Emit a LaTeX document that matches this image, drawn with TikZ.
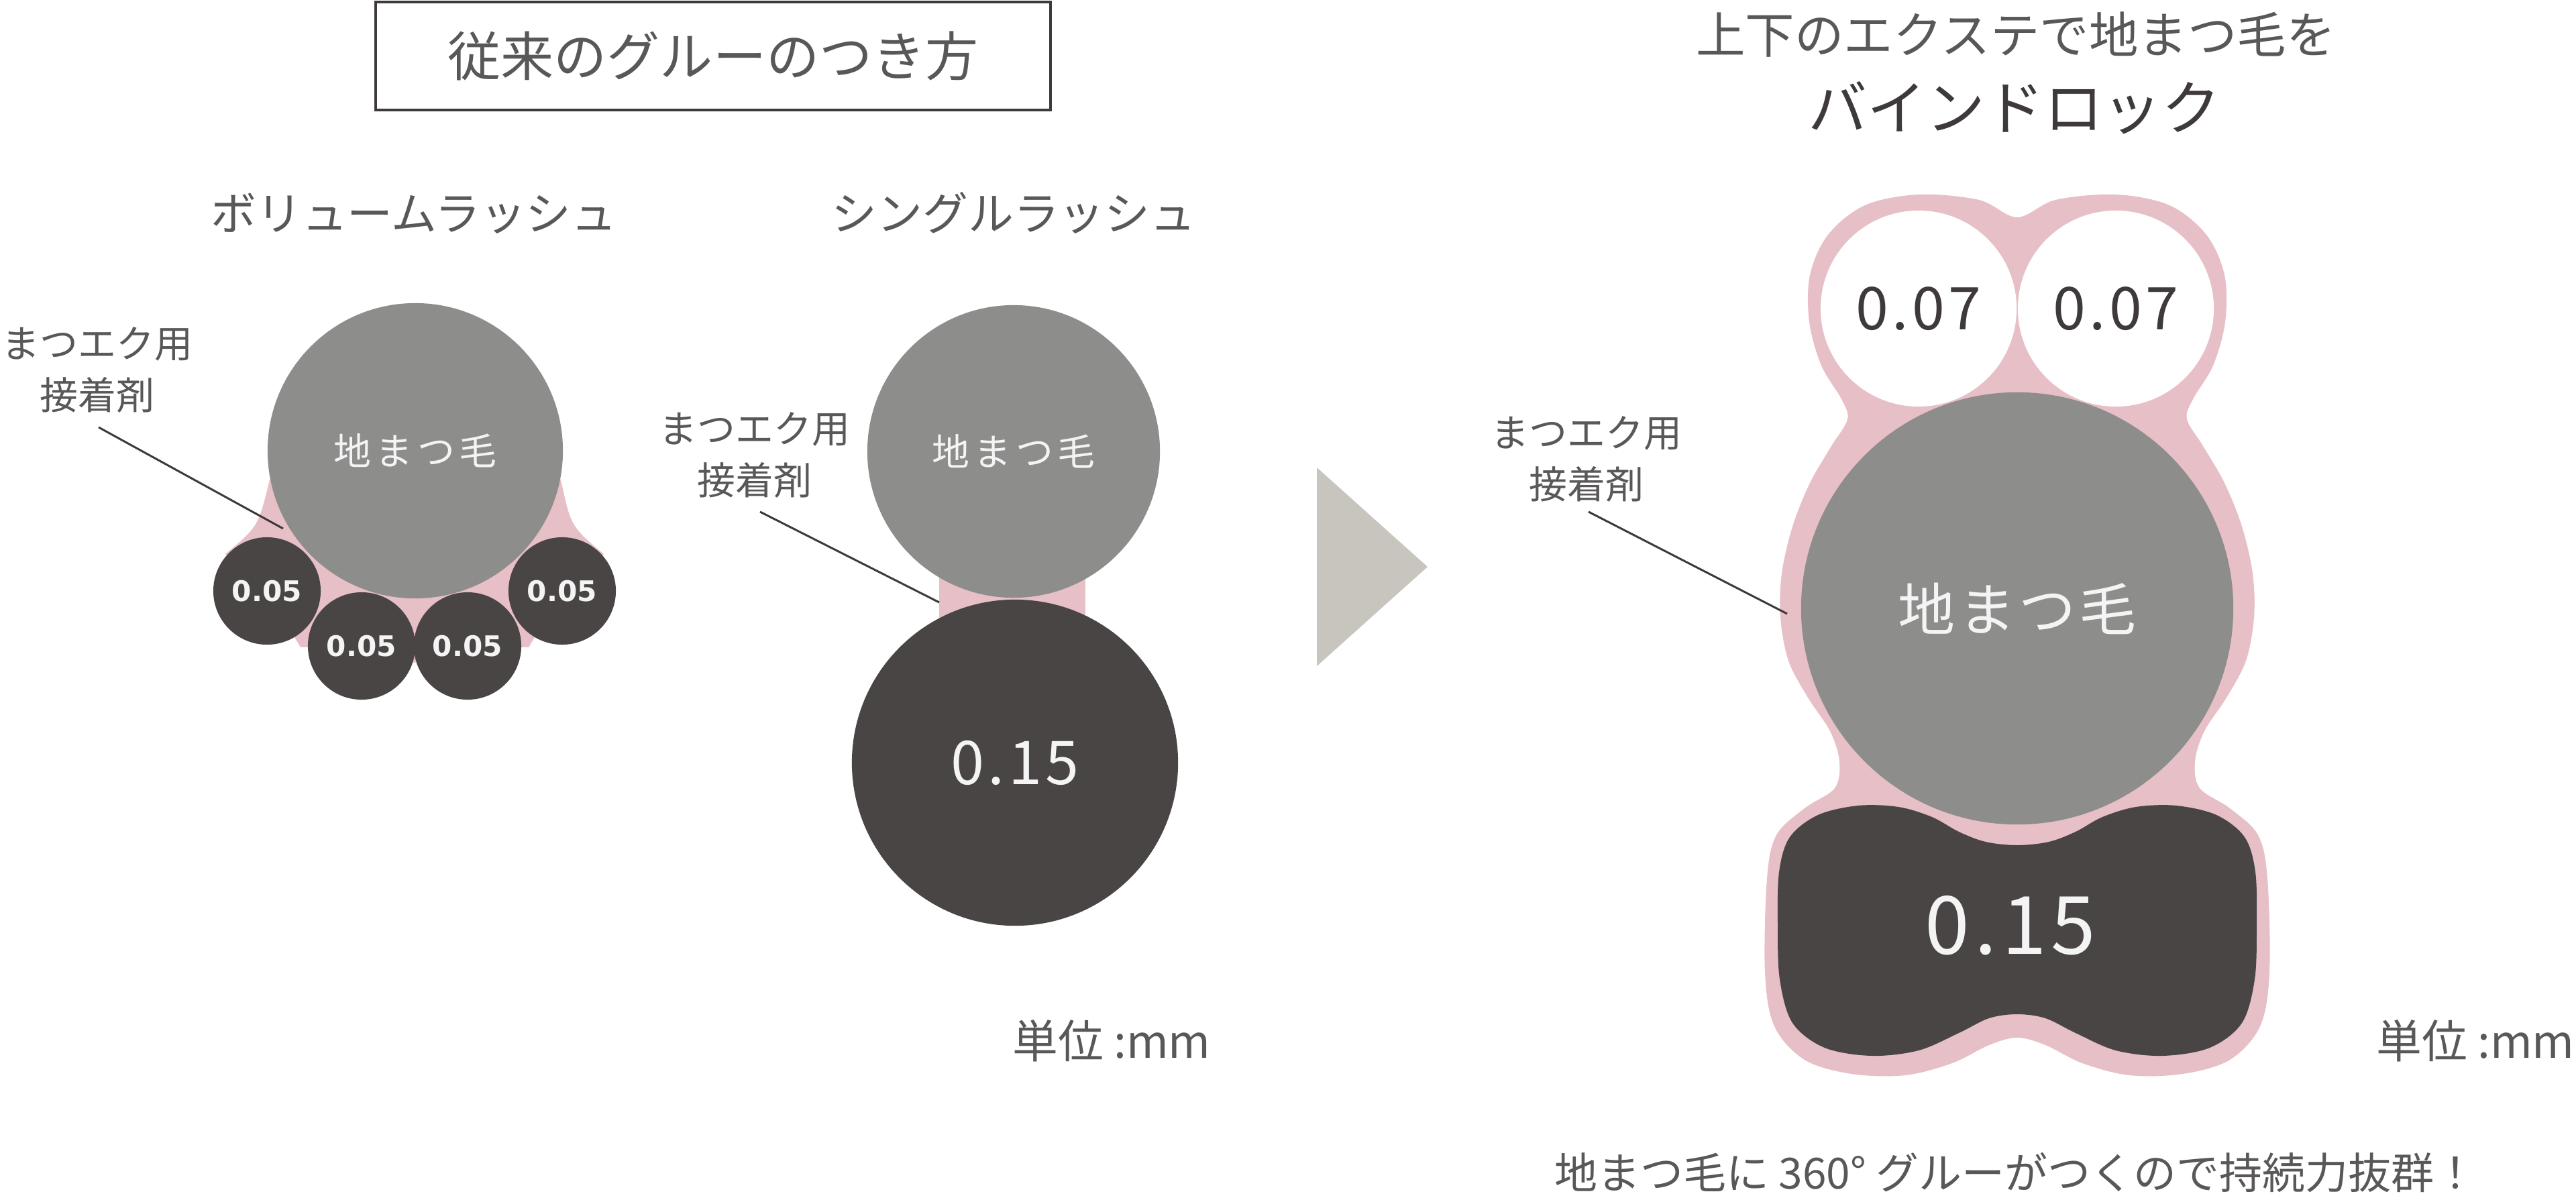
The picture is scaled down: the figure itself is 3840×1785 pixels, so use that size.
\documentclass[tikz,border=0pt]{standalone}
\usepackage{fontspec}
\setmainfont{Noto Sans CJK JP}
\newfontfamily\jpsp[LetterSpace=12]{Noto Sans CJK JP}
\newfontfamily\jpsq[LetterSpace=6]{Noto Sans CJK JP}
\newfontfamily\dvsans{DejaVu Sans}
\newcommand\fsz[1]{\fontsize{#1pt}{#1pt}\selectfont}
\definecolor{tg}{HTML}{595757}
\definecolor{tdk}{HTML}{3E3A39}
\definecolor{gc}{HTML}{8D8D8C}
\definecolor{dk}{HTML}{4A4545}
\definecolor{pk}{HTML}{E7BFC7}
\definecolor{tri}{HTML}{C8C5BE}
\definecolor{lc}{HTML}{3E3A39}
\definecolor{wt}{HTML}{F4F4F4}
\tikzset{
  txt/.style={inner sep=0pt, outer sep=0pt, text=tg},
  tbox/.style={draw=lc, line width=1.1pt, minimum width=10.06cm, minimum height=1.61cm, inner sep=0pt, text=tg, font=\fsz{22.5}},
  hdr/.style={txt, font=\fsz{19.3}},
  lbl/.style={txt, align=center, font=\fontsize{16.2pt}{21.9pt}\selectfont},
  leader/.style={draw=lc, line width=0.85pt},
  graycirc/.style={circle, fill=gc, inner sep=0pt, text=wt},
  darkcirc/.style={circle, fill=dk, inner sep=0pt, text=wt},
  whitecirc/.style={circle, fill=white, inner sep=0pt, text=tdk},
  smalldark/.style={darkcirc, minimum size=1.6cm, font=\dvsans\bfseries\fsz{12}},
  unit/.style={txt, font=\fsz{19.3}}
}
\begin{document}
\begin{tikzpicture}[x=0.01cm,y=-0.01cm]
\useasboundingbox (0,0) rectangle (3840,1785);

% ---------- title box ----------
\node[tbox] (ttl) at (1063,83.5) {従来のグルーのつき方};

% ---------- headers ----------
\node[hdr] (hvol) at (617,318) {ボリュームラッシュ};
\node[hdr] (hsgl) at (1511,318) {シングルラッシュ};

% ---------- volume lash ----------
\fill[pk] (619,672) -- (402,715) .. controls (385,785) .. (336,826) -- (398,881) -- (448,965)
  -- (539,963) -- (618,988) -- (697,963) -- (788,965) -- (838,881) -- (900,826)
  .. controls (851,785) .. (836,715) -- cycle;
\node[graycirc, minimum size=4.4cm, font=\jpsp\fsz{15.9}] (vbig) at (619,672) {地まつ毛};
\node[smalldark] (v1) at (398,881) {0.05};
\node[smalldark] (v2) at (539,963) {0.05};
\node[smalldark] (v3) at (697,963) {0.05};
\node[smalldark] (v4) at (838,881) {0.05};

\node[lbl] (lab1) at (145,551) {まつエク用\\接着剤};
\coordinate (l1s) at (147,637);
\coordinate (l1e) at (422,788);
\draw[leader] (l1s) -- (l1e);

% ---------- single lash ----------
\fill[pk] (1400,850) rectangle (1618,925);
\node[graycirc, minimum size=4.36cm, font=\jpsp\fsz{15.9}] (sbig) at (1511,673) {地まつ毛};
\node[darkcirc, minimum size=4.86cm, font=\jpsq\fsz{25.6}] (sdark) at (1513,1137) {0.15};

\node[lbl] (lab2) at (1125,678) {まつエク用\\接着剤};
\coordinate (l2s) at (1133,763);
\coordinate (l2e) at (1400,898);
\draw[leader] (l2s) -- (l2e);

\node[unit] (unit1) at (1657,1552) {単位 :mm};

% ---------- arrow ----------
\fill[tri] (1963,697) -- (1963,993) -- (2128,845) -- cycle;

% ---------- right title ----------
\node[txt, font=\fsz{20.9}] (rt1) at (3005,52) {上下のエクステで地まつ毛を};
\node[txt, text=tdk, font=\fsz{25}] (rt2) at (3003,161) {バインドロック};

% ---------- bind lock ----------
\fill[pk] plot[smooth cycle, tension=0.55] coordinates {
 (3007,324) (2950,298) (2860,290) (2780,306) (2725,350) (2698,410) (2697,480)
 (2715,545) (2745,595) (2754,625) (2730,665) (2698,720) (2672,785) (2656,855)
 (2654,920) (2666,985) (2695,1040) (2728,1090) (2742,1135) (2735,1175) (2690,1205)
 (2648,1245) (2634,1310) (2631,1450) (2645,1530) (2690,1580) (2760,1601) (2840,1603)
 (2910,1585) (2965,1558) (3007,1547)
 (3049,1558) (3104,1585) (3174,1603) (3254,1601) (3324,1580) (3369,1530) (3383,1450)
 (3380,1310) (3366,1245) (3324,1205) (3279,1175) (3272,1135) (3286,1090) (3319,1040)
 (3348,985) (3360,920) (3358,855) (3342,785) (3316,720) (3284,665) (3260,625)
 (3269,595) (3299,545) (3317,480) (3316,410) (3289,350) (3234,306) (3154,290) (3064,298)
};
\node[whitecirc, minimum size=2.92cm, font=\jpsq\fsz{25}] (w1) at (2860,460) {0.07};
\node[whitecirc, minimum size=2.92cm, font=\jpsq\fsz{25}] (w2) at (3154,460) {0.07};
\node[graycirc, minimum size=6.44cm, font=\jpsq\fsz{24.2}] (rbig) at (3007,907) {地まつ毛};
\fill[dk] plot[smooth cycle, tension=0.55] coordinates {
 (3007,1260) (2960,1255) (2920,1240) (2880,1218) (2830,1203) (2770,1201) (2710,1215)
 (2668,1248) (2652,1300) (2650,1380) (2653,1460) (2672,1525) (2720,1562) (2790,1574)
 (2860,1566) (2920,1540) (2965,1518) (3007,1512)
 (3049,1518) (3094,1540) (3154,1566) (3224,1574) (3294,1562) (3342,1525) (3361,1460)
 (3364,1380) (3362,1300) (3346,1248) (3304,1215) (3244,1201) (3184,1203) (3134,1218)
 (3094,1240) (3054,1255)
};
\node[txt, text=wt, font=\jpsq\fsz{34.1}] (rdark) at (2997,1380) {0.15};

\node[lbl] (lab3) at (2365,684) {まつエク用\\接着剤};
\coordinate (l3s) at (2368,763);
\coordinate (l3e) at (2664,915);
\draw[leader] (l3s) -- (l3e);

\node[unit] (unit2) at (3690,1552) {単位 :mm};

\node[txt, font=\fsz{18.2}] (bottom) at (3005,1748) {地まつ毛に 360° グルーがつくので持続力抜群！};
\end{tikzpicture}
\end{document}
